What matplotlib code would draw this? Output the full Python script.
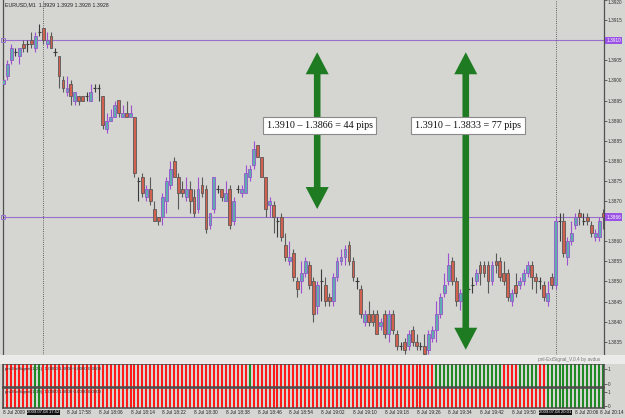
import numpy as np
import pandas as pd
import matplotlib
matplotlib.use('Agg')
import matplotlib.pyplot as plt
from matplotlib.patches import Rectangle, Polygon
from matplotlib.transforms import IdentityTransform, blended_transform_factory

plt.rcParams['font.family'] = ['Liberation Sans', 'DejaVu Sans']

# EURUSD M1 candles, 8 Jul 2009
opens = [1.3899, 1.3901, 1.3905, 1.3907, 1.3906, 1.3909, 1.3909, 1.3910, 1.3908, 1.3912,
         1.3913, 1.3909, 1.3911, 1.3907, 1.3906, 1.3900, 1.3897, 1.3899, 1.3895, 1.3896,
         1.3896, 1.3896, 1.3895, 1.3898, 1.3898, 1.3896, 1.3888, 1.3890, 1.3891, 1.3895,
         1.3891, 1.3892, 1.3891, 1.3891, 1.3875, 1.3876, 1.3871, 1.3873, 1.3868, 1.3866,
         1.3866, 1.3870, 1.3874, 1.3880, 1.3876, 1.3873, 1.3871, 1.3873, 1.3871, 1.3868,
         1.3874, 1.3873, 1.3864, 1.3868, 1.3873, 1.3873, 1.3870, 1.3873, 1.3865, 1.3873,
         1.3872, 1.3872, 1.3876, 1.3879, 1.3884, 1.3881, 1.3876, 1.3869, 1.3869, 1.3865,
         1.3866, 1.3859, 1.3855, 1.3857, 1.3850, 1.3850, 1.3852, 1.3854, 1.3850, 1.3844,
         1.3850, 1.3849, 1.3846, 1.3845, 1.3851, 1.3855, 1.3856, 1.3859, 1.3855, 1.3850,
         1.3848, 1.3840, 1.3842, 1.3842, 1.3842, 1.3839, 1.3842, 1.3837, 1.3842, 1.3837,
         1.3834, 1.3835, 1.3834, 1.3838, 1.3835, 1.3834, 1.3834, 1.3833, 1.3836, 1.3838,
         1.3842, 1.3847, 1.3850, 1.3855, 1.3850, 1.3845, 1.3846, 1.3848, 1.3849, 1.3850,
         1.3854, 1.3854, 1.3854, 1.3850, 1.3855, 1.3855, 1.3852, 1.3852, 1.3845, 1.3849,
         1.3849, 1.3850, 1.3852, 1.3854, 1.3851, 1.3850, 1.3849, 1.3845, 1.3851, 1.3849,
         1.3865, 1.3865, 1.3856, 1.3860, 1.3864, 1.3867, 1.3865, 1.3866, 1.3864, 1.3861,
         1.3861, 1.3867]
highs = [1.3901, 1.3905, 1.3909, 1.3908, 1.3908, 1.3910, 1.3910, 1.3912, 1.3912, 1.3914,
         1.3913, 1.3912, 1.3912, 1.3908, 1.3906, 1.3901, 1.3901, 1.3900, 1.3897, 1.3896,
         1.3896, 1.3897, 1.3899, 1.3899, 1.3899, 1.3896, 1.3892, 1.3893, 1.3895, 1.3895,
         1.3894, 1.3895, 1.3894, 1.3891, 1.3876, 1.3877, 1.3874, 1.3876, 1.3870, 1.3866,
         1.3872, 1.3876, 1.3880, 1.3881, 1.3877, 1.3875, 1.3876, 1.3875, 1.3873, 1.3876,
         1.3876, 1.3874, 1.3867, 1.3876, 1.3874, 1.3873, 1.3875, 1.3874, 1.3871, 1.3874,
         1.3874, 1.3879, 1.3879, 1.3885, 1.3884, 1.3881, 1.3876, 1.3871, 1.3870, 1.3866,
         1.3867, 1.3862, 1.3860, 1.3858, 1.3851, 1.3855, 1.3856, 1.3855, 1.3851, 1.3850,
         1.3853, 1.3851, 1.3847, 1.3852, 1.3856, 1.3858, 1.3859, 1.3860, 1.3856, 1.3851,
         1.3849, 1.3843, 1.3845, 1.3843, 1.3843, 1.3841, 1.3843, 1.3843, 1.3843, 1.3838,
         1.3835, 1.3836, 1.3838, 1.3839, 1.3837, 1.3835, 1.3837, 1.3838, 1.3839, 1.3845,
         1.3847, 1.3852, 1.3857, 1.3856, 1.3851, 1.3848, 1.3847, 1.3849, 1.3851, 1.3853,
         1.3855, 1.3855, 1.3855, 1.3855, 1.3857, 1.3856, 1.3855, 1.3853, 1.3848, 1.3852,
         1.3851, 1.3853, 1.3855, 1.3855, 1.3852, 1.3851, 1.3850, 1.3850, 1.3852, 1.3866,
         1.3867, 1.3867, 1.3861, 1.3865, 1.3867, 1.3868, 1.3867, 1.3867, 1.3865, 1.3863,
         1.3866, 1.3868]
lows = [1.3898, 1.3900, 1.3904, 1.3906, 1.3904, 1.3907, 1.3907, 1.3908, 1.3907, 1.3911,
        1.3909, 1.3908, 1.3908, 1.3906, 1.3898, 1.3897, 1.3896, 1.3894, 1.3894, 1.3894,
        1.3895, 1.3895, 1.3895, 1.3897, 1.3895, 1.3888, 1.3887, 1.3890, 1.3891, 1.3891,
        1.3891, 1.3891, 1.3891, 1.3876, 1.3870, 1.3871, 1.3870, 1.3869, 1.3865, 1.3864,
        1.3864, 1.3867, 1.3873, 1.3876, 1.3868, 1.3871, 1.3870, 1.3867, 1.3866, 1.3867,
        1.3871, 1.3862, 1.3863, 1.3867, 1.3872, 1.3870, 1.3870, 1.3863, 1.3864, 1.3872,
        1.3871, 1.3872, 1.3875, 1.3878, 1.3881, 1.3876, 1.3866, 1.3866, 1.3862, 1.3861,
        1.3860, 1.3855, 1.3854, 1.3850, 1.3846, 1.3847, 1.3851, 1.3848, 1.3840, 1.3842,
        1.3845, 1.3844, 1.3844, 1.3844, 1.3850, 1.3854, 1.3854, 1.3854, 1.3850, 1.3848,
        1.3841, 1.3839, 1.3839, 1.3839, 1.3837, 1.3838, 1.3836, 1.3835, 1.3837, 1.3833,
        1.3833, 1.3832, 1.3833, 1.3834, 1.3833, 1.3833, 1.3832, 1.3832, 1.3835, 1.3835,
        1.3841, 1.3846, 1.3849, 1.3849, 1.3844, 1.3843, 1.3844, 1.3847, 1.3847, 1.3849,
        1.3849, 1.3851, 1.3847, 1.3849, 1.3852, 1.3850, 1.3849, 1.3845, 1.3844, 1.3846,
        1.3848, 1.3849, 1.3851, 1.3848, 1.3847, 1.3848, 1.3845, 1.3844, 1.3848, 1.3848,
        1.3860, 1.3856, 1.3854, 1.3859, 1.3863, 1.3864, 1.3864, 1.3864, 1.3861, 1.3860,
        1.3860, 1.3863]
closes = [1.3900, 1.3904, 1.3908, 1.3907, 1.3908, 1.3908, 1.3909, 1.3909, 1.3911, 1.3912,
          1.3910, 1.3910, 1.3908, 1.3907, 1.3901, 1.3898, 1.3898, 1.3896, 1.3897, 1.3895,
          1.3895, 1.3896, 1.3897, 1.3898, 1.3898, 1.3889, 1.3890, 1.3891, 1.3894, 1.3892,
          1.3892, 1.3891, 1.3892, 1.3877, 1.3875, 1.3872, 1.3873, 1.3870, 1.3865, 1.3865,
          1.3871, 1.3875, 1.3878, 1.3876, 1.3872, 1.3872, 1.3873, 1.3870, 1.3867, 1.3873,
          1.3872, 1.3863, 1.3867, 1.3876, 1.3873, 1.3871, 1.3872, 1.3864, 1.3870, 1.3873,
          1.3873, 1.3877, 1.3878, 1.3883, 1.3881, 1.3876, 1.3868, 1.3870, 1.3866, 1.3865,
          1.3861, 1.3856, 1.3856, 1.3851, 1.3848, 1.3852, 1.3855, 1.3849, 1.3842, 1.3849,
          1.3850, 1.3845, 1.3845, 1.3851, 1.3855, 1.3856, 1.3858, 1.3855, 1.3851, 1.3850,
          1.3842, 1.3842, 1.3840, 1.3840, 1.3837, 1.3840, 1.3837, 1.3842, 1.3838, 1.3834,
          1.3834, 1.3833, 1.3837, 1.3835, 1.3834, 1.3834, 1.3832, 1.3837, 1.3838, 1.3842,
          1.3846, 1.3849, 1.3854, 1.3850, 1.3845, 1.3847, 1.3845, 1.3848, 1.3849, 1.3852,
          1.3852, 1.3852, 1.3850, 1.3854, 1.3854, 1.3851, 1.3850, 1.3846, 1.3847, 1.3847,
          1.3850, 1.3852, 1.3854, 1.3851, 1.3850, 1.3850, 1.3846, 1.3847, 1.3849, 1.3865,
          1.3865, 1.3857, 1.3860, 1.3862, 1.3866, 1.3866, 1.3865, 1.3865, 1.3862, 1.3862,
          1.3865, 1.3866]

start_time = pd.Timestamp('2009-07-08 17:42')
level_prices = [1.3910, 1.3866]
marked_bars = [10, 139]

# signal panels, as (colour, number of bars) runs
signal1_runs = [('r', 8), ('g', 2), ('r', 52), ('g', 1), ('r', 46), ('g', 17),
                ('r', 4), ('g', 5), ('r', 2), ('g', 15)]
signal2_runs = [('r', 8), ('g', 2), ('r', 127), ('g', 15)]
signal_names = ['pnl-ExtSignal(1,21)  1.0000 1.0000 0.0000 0.0000',
                'pnl-ExtSignal(1,30)  1.0000 1.0000 0.0000 0.0000']

notes = ['1.3910 \u2013 1.3866 = 44 pips', '1.3910 \u2013 1.3833 = 77 pips']
note_bars = [79.6, 117.0]
note_price = 1.38888
arrow_bars = [79.0, 116.4]
arrow_top = 1.3907
arrow_bottoms = [1.3868, 1.3833]

BG = '#d5d5d1'
BULL, BULL_LINE = '#5eacae', '#9c52cf'
BEAR, BEAR_LINE = '#d2604e', '#5a5a5a'
LEVEL = '#9a6fd0'
GREEN = '#1e7b22'
FS = 3.4

W, H = 625, 418
n = len(opens)


def rect(x0, y0, x1, y1):
    return [x0 / W, 1 - y1 / H, (x1 - x0) / W, (y1 - y0) / H]


fig = plt.figure(figsize=(W / 100, H / 100), dpi=100, facecolor=BG)
ax = fig.add_axes(rect(3, 0, 604, 355), facecolor=BG)
ax1 = fig.add_axes(rect(3, 364, 604, 387), facecolor=BG)
ax2 = fig.add_axes(rect(3, 388, 604, 408), facecolor=BG)

# light separator band between main window and indicator windows
fig.patches.append(Rectangle((0, 1 - 364 / H), 1, 9 / H, transform=fig.transFigure,
                             fc='#ebebe9', ec='none', zorder=0))

xmin, xmax = -0.1, 151.2
ytop = 1.3920
ybot = ytop - 355 / 4.02 * 1e-4
ax.set_xlim(xmin, xmax)
ax.set_ylim(ybot, ytop)

# candles
for k in range(n):
    o, h, l, c = opens[k], highs[k], lows[k], closes[k]
    if c > o:
        fill, line = BULL, BULL_LINE
    elif c < o:
        fill, line = BEAR, BEAR_LINE
    else:
        fill, line = None, '#3a3a3a'
    ax.vlines(k, l, h, color=line, lw=0.8, zorder=2)
    if fill:
        ax.add_patch(Rectangle((k - 0.36, min(o, c)), 0.72, abs(c - o),
                               fc=fill, ec=line, lw=0.6, zorder=3))
    else:
        ax.hlines(o, k - 0.4, k + 0.4, color=line, lw=0.8, zorder=3)

# horizontal levels and vertical markers
for p in level_prices:
    ax.axhline(p, color=LEVEL, lw=0.8, zorder=1)
    ax.plot(0, p, marker='s', ms=2.6, mfc='none', mec=LEVEL, mew=0.7, clip_on=False, zorder=4)
    ax.text(1.004, p, f'{p:.4f}', transform=blended_transform_factory(ax.transAxes, ax.transData),
            ha='left', va='center', fontsize=FS, color='white',
            bbox=dict(boxstyle='square,pad=0.25', fc='#9a52e6', ec='none'), clip_on=False, zorder=6)
for a in (ax, ax1, ax2):
    for b in marked_bars:
        a.axvline(b, color='#3c3c3c', lw=0.6, ls=(0, (1, 1.6)), zorder=1)

# price scale (labels under the level boxes are hidden, as in the terminal)
yt = [t for t in np.arange(1.3835, 1.39201, 0.0005)
      if all(abs(t - p) > 0.00015 for p in level_prices)]
ax.set_yticks(yt)
ax.set_yticklabels([f'{t:.4f}' for t in yt])
ax.yaxis.tick_right()
ax.tick_params(axis='y', length=1.8, width=0.5, pad=1.0, labelsize=FS, colors='#333333')
ax.get_yticklabels()[-1].set_va('top')   # keep the top price inside the picture
ax.set_xticks([])
for s in ['top', 'bottom']:
    ax.spines[s].set_visible(False)
for s in ['left', 'right']:
    ax.spines[s].set_color('#505050')
    ax.spines[s].set_linewidth(0.9)

ax.text(0.003, 0.993, 'EURUSD,M1  1.3929 1.3929 1.3928 1.3928', transform=ax.transAxes,
        ha='left', va='top', fontsize=3.8, color='#222222')
fig.text(600 / W, 1 - 359 / H, 'pnl-ExtSignal_V.0.4 by avdus', ha='right', va='center',
         fontsize=3.4, color='#777777')

# green double-headed arrows, built in pixel space
fig.canvas.draw()
for xb, yb in zip(arrow_bars, arrow_bottoms):
    px, ty = ax.transData.transform((xb, arrow_top))
    _, by = ax.transData.transform((xb, yb))
    sw, hw, hl = 3.3, 11.5, 22
    pts = [(px, ty), (px + hw, ty - hl), (px + sw, ty - hl), (px + sw, by + hl),
           (px + hw, by + hl), (px, by), (px - hw, by + hl), (px - sw, by + hl),
           (px - sw, ty - hl), (px - hw, ty - hl)]
    ax.add_patch(Polygon(pts, closed=True, transform=IdentityTransform(),
                         fc=GREEN, ec='none', zorder=5))

for txt, xb in zip(notes, note_bars):
    ax.text(xb, note_price, txt, ha='center', va='center', fontsize=7.3,
            family='Liberation Serif', color='#111111', zorder=7,
            bbox=dict(boxstyle='square,pad=0.38', fc='white', ec='#8a8a8a', lw=0.8))

# signal panels
for a, runs, name in [(ax1, signal1_runs, signal_names[0]), (ax2, signal2_runs, signal_names[1])]:
    cols = [('#ff1a1a' if c == 'r' else '#1f8a24') for c, m in runs for _ in range(m)]
    a.bar(np.arange(n), 1.0, width=0.5, bottom=0, color=cols, zorder=2)
    a.set_xlim(xmin, xmax)
    a.set_ylim(0, 1)
    a.yaxis.tick_right()
    a.set_yticks([0.12, 0.8])
    a.set_yticklabels(['0', '1'])
    a.tick_params(axis='y', length=1.8, width=0.5, pad=1.0, labelsize=FS, colors='#333333')
    a.set_xticks([])
    for s in a.spines.values():
        s.set_color('#4a4a4a')
        s.set_linewidth(1.1)
    a.text(0.004, 0.78, name, transform=a.transAxes, ha='left', va='center',
           fontsize=3.2, color='#333333', zorder=4)

# time scale under the last panel
bt = blended_transform_factory(ax2.transData, ax2.transAxes)
ax2.text(0, -0.12, '8 Jul 2009', transform=bt, ha='left', va='top', fontsize=FS,
         color='#222222', clip_on=False)
last_k = max(range(16, n + 2, 8))
for k in range(16, n + 2, 8):
    if any(abs(k - b) < 5 for b in marked_bars):
        continue
    t = start_time + pd.Timedelta(minutes=k)
    label = f'{t.day} {t:%b %H:%M}'
    if k == last_k:
        # the last label is pushed back inside the picture, as the terminal does
        fig.text(624 / W, 1 - 408 / H - 0.004, label, ha='right', va='top',
                 fontsize=FS, color='#222222')
    else:
        ax2.text(k, -0.12, label, transform=bt, ha='left', va='top',
                 fontsize=FS, color='#222222', clip_on=False)
for b in marked_bars:
    t = start_time + pd.Timedelta(minutes=b)
    ax2.text(b, -0.12, f'{t:%Y.%m.%d %H:%M}', transform=bt, ha='center', va='top',
             fontsize=3.1, color='white', clip_on=False,
             bbox=dict(boxstyle='square,pad=0.1', fc='#111111', ec='none'))

fig.savefig('out.png', dpi=100, facecolor=BG)
